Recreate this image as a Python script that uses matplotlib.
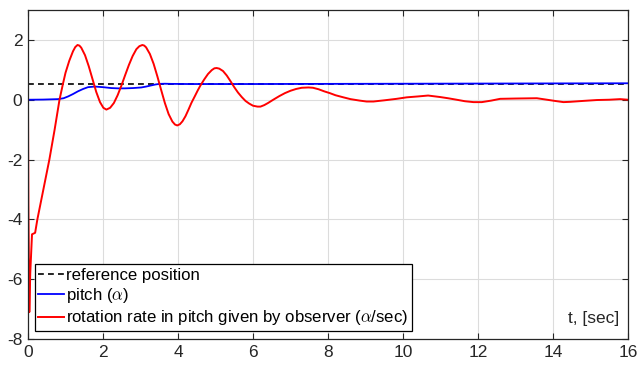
import matplotlib
matplotlib.use("Agg")
import matplotlib.pyplot as plt

plt.rcParams['font.family'] = ['Liberation Sans', 'DejaVu Sans']
plt.rcParams['mathtext.fontset'] = 'cm'
plt.rcParams['axes.unicode_minus'] = False

# reference position (rad)
ref_t = [0.0, 16.0]
ref_v = [0.5236, 0.5236]

# pitch angle
pitch_t = [0.0, 0.4, 0.8, 0.95, 1.07, 1.2, 1.33, 1.47, 1.6, 1.78, 2.0, 2.22, 2.4, 2.58,
           2.8, 3.02, 3.15, 3.29, 3.4, 3.51, 3.65, 3.82, 4.27, 6.0, 8.0, 10.0, 12.0, 14.0, 16.0]
pitch_v = [0.0, 0.005, 0.02, 0.05, 0.11, 0.19, 0.28, 0.36, 0.42, 0.44, 0.42, 0.39, 0.38, 0.38,
           0.39, 0.41, 0.44, 0.48, 0.51, 0.53, 0.535, 0.53, 0.525, 0.525, 0.53, 0.535, 0.54, 0.545, 0.55]

# observer estimate of pitch rate
rate_t = [0.0, 0.01, 0.035, 0.06, 0.107, 0.19, 0.25, 0.41, 0.57, 0.71, 0.84, 0.93, 1.0, 1.1,
          1.2, 1.26, 1.32, 1.37, 1.42, 1.52, 1.62, 1.72, 1.82, 1.92, 2.01, 2.09,
          2.19, 2.29, 2.39, 2.49, 2.59, 2.69, 2.79, 2.89, 2.97, 3.05,
          3.1, 3.15, 3.25, 3.35, 3.45, 3.55, 3.65, 3.75, 3.85, 3.92, 3.98,
          4.05, 4.12, 4.2, 4.28, 4.36, 4.45, 4.53, 4.6, 4.7, 4.8, 4.9, 4.97, 5.03,
          5.1, 5.2, 5.3, 5.4, 5.5, 5.6, 5.7, 5.8, 5.9, 6.0, 6.12,
          6.2, 6.3, 6.4, 6.54, 6.7, 6.85, 7.0, 7.15, 7.3, 7.48, 7.6, 7.75, 7.9, 8.05, 8.2, 8.41,
          8.6, 8.85, 9.03, 9.21, 9.5, 9.83, 10.1, 10.4, 10.67, 10.99, 11.2, 11.43, 11.65, 11.88,
          12.1, 12.35, 12.59, 13.0, 13.57, 13.84, 14.05, 14.28, 14.46, 14.8, 15.17, 15.5, 15.79, 16.0]
rate_v = [0.0, -3.5, -7.1, -5.8, -4.5, -4.45, -4.0, -3.0, -2.0, -1.0, 0.0, 0.52, 0.9, 1.3,
          1.62, 1.76, 1.83, 1.81, 1.74, 1.49, 1.12, 0.69, 0.26, -0.08, -0.27, -0.33,
          -0.27, -0.11, 0.15, 0.47, 0.82, 1.16, 1.46, 1.69, 1.79, 1.83,
          1.81, 1.75, 1.53, 1.20, 0.78, 0.33, -0.11, -0.48, -0.73, -0.83, -0.86,
          -0.82, -0.72, -0.55, -0.33, -0.1, 0.12, 0.32, 0.48, 0.68, 0.86, 0.99, 1.05, 1.06,
          1.04, 0.96, 0.81, 0.62, 0.42, 0.24, 0.09, -0.04, -0.13, -0.2, -0.23,
          -0.23, -0.18, -0.11, 0.0, 0.12, 0.22, 0.3, 0.36, 0.4, 0.41, 0.4, 0.35, 0.28, 0.22, 0.15, 0.08,
          0.02, -0.03, -0.06, -0.06, -0.02, 0.03, 0.08, 0.11, 0.14, 0.09, 0.05, 0.0, -0.05, -0.08,
          -0.08, -0.03, 0.03, 0.04, 0.05, 0.0, -0.04, -0.08, -0.07, -0.04, -0.01, 0.0, 0.02, 0.0]

labels = ['reference position', r'pitch ($\alpha$)',
          r'rotation rate in pitch given by observer ($\alpha$/sec)']

fig = plt.figure(figsize=(6.38, 3.65), dpi=100)
ax = fig.add_axes([28/638, 26/365, 600/638, 329/365])

ax.plot(ref_t, ref_v, color='black', ls=(0, (3.5, 2.5)), lw=1.2, label=labels[0])
ax.plot(pitch_t, pitch_v, color='#0000ff', lw=1.3, label=labels[1])
ax.plot(rate_t, rate_v, color='#ff0000', lw=1.4, label=labels[2])

ax.set_xlim(0, 16)
ax.set_ylim(-8, 3)
ax.set_xticks(range(0, 17, 2))
ax.set_yticks(range(-8, 3, 2))
ax.grid(True, color='#dcdcdc', lw=0.8)
ax.set_axisbelow(True)
for s in ax.spines.values():
    s.set_color('#262626')
    s.set_linewidth(0.9)
ax.tick_params(direction='in', length=4, width=0.8, colors='#262626',
               labelsize=12.5, top=True, right=True, pad=4)

ax.text(0.985, 0.04, 't, [sec]', transform=ax.transAxes, ha='right', va='bottom',
        fontsize=12.5, color='#262626')

leg = ax.legend(loc='lower left', bbox_to_anchor=(0.011, 0.024), fontsize=12.1,
                frameon=True, fancybox=False, framealpha=1, edgecolor='black',
                handlelength=1.5, handletextpad=0.15, borderpad=0.22,
                labelspacing=0.2, borderaxespad=0)
leg.get_frame().set_linewidth(0.9)

fig.savefig('out.png', dpi=100)
